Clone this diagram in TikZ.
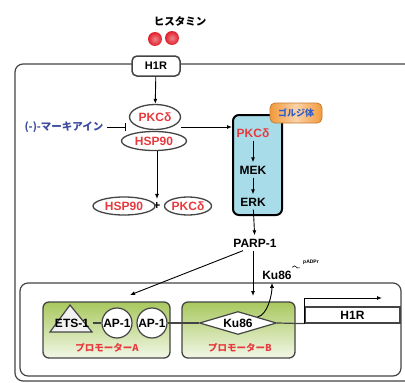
\documentclass[tikz,border=0pt]{standalone}
\usepackage{fontspec}
\setmainfont{Liberation Sans}
\newfontfamily\jpfont{Noto Sans CJK JP}
\usetikzlibrary{shapes.geometric,arrows.meta,positioning}

\definecolor{fgred}{HTML}{E63A3F}
\definecolor{histred}{HTML}{E01F2B}
\definecolor{fgblue}{HTML}{3C4C9E}
\definecolor{golgiblue}{HTML}{A8DCE8}
\definecolor{tagorange}{HTML}{F39A3C}
\definecolor{tagblue}{HTML}{2F5FC8}
\definecolor{promgreen}{HTML}{A8C85E}
\definecolor{boxline}{HTML}{444444}

\tikzset{
  lbl/.style={font=\bfseries\fontsize{12}{12}\selectfont},
  jplbl/.style={font=\jpfont\bfseries\fontsize{#1}{#1}\selectfont},
  oval/.style={ellipse, draw=boxline, line width=1.3pt, fill=white, text=fgred, inner sep=0pt, lbl},
  factor/.style={circle, draw=boxline, line width=1.2pt, fill=white, minimum size=30, inner sep=0pt, lbl},
  promoter/.style={draw=boxline, line width=1.3pt, rounded corners=6pt, top color=promgreen, bottom color=promgreen!15!white},
  ligand/.style={inner color=histred!55!white, outer color=histred},
  arr/.style={-{Latex[length=5pt,width=4pt]}, line width=0.9pt},
  dna/.style={line width=1.2pt, boxline},
}

\begin{document}
\begin{tikzpicture}[x=1pt,y=-1pt]
\useasboundingbox (0,0) rectangle (405,383);
% cell and nucleus
\begin{scope}
  \clip (0,0) rectangle (405,383);
  \draw[boxline, line width=1.2pt, rounded corners=8pt] (15,64) rectangle (415,381);
  \draw[boxline, line width=1.2pt, rounded corners=8pt] (20,283) rectangle (401,376);
\end{scope}

% receptor
\node[jplbl=10.5] (hist) at (180,21) {ヒスタミン};
\shade[ligand] (155,39) circle (7);
\shade[ligand] (172,38) circle (7);
\node[draw=boxline, fill=white, line width=1.5pt, rounded corners=5pt, minimum width=48, minimum height=20,
      font=\bfseries\fontsize{11}{11}\selectfont] (h1r) at (156,66) {H1R};

% PKC delta / HSP90 complex
\node[oval, minimum width=51, minimum height=25] (pkc1) at (155,117) {PKCδ};
\node[oval, minimum width=65, minimum height=19] (hsp1) at (154,141) {HSP90};
\node[jplbl=10.5, text=fgblue, anchor=east] (marki) at (107,127) {(-)-マーキアイン};
\coordinate (tee) at (126,127);
\coordinate (cx) at (181,127);
\draw[arr] (h1r) -- (pkc1);
\draw[line width=0.9pt, -{Bar[width=8pt]}] (marki) -- (tee);

% dissociated
\node[lbl] (plus) at (157,206) {+};
\node[oval, minimum width=62, minimum height=18] (hsp2) at (124,206) {HSP90};
\node[oval, minimum width=47, minimum height=18] (pkc3) at (188,206) {PKCδ};
\draw[arr] (hsp1.south -| plus.north) -- (plus.north);

% golgi
\node[draw, line width=2pt, fill=golgiblue, rounded corners=6pt, minimum width=49, minimum height=100] (golgi) at (257.5,165) {};
\node[draw=tagorange!80!black, line width=0.8pt, rounded corners=5pt, left color=tagorange, right color=tagorange,
      middle color=tagorange!45!white, text=tagblue, jplbl=9, minimum width=52, minimum height=20] (tag) at (296,113) {ゴルジ体};
\node[lbl, text=fgred] (pkc2) at (253,133) {PKCδ};
\node[lbl] (mek) at (253,170) {MEK};
\node[lbl] (erk) at (253,202) {ERK};
\node[lbl] (parp) at (255,243) {PARP-1};
\draw[arr] (cx) -- (golgi.west |- cx);
\draw[arr] (pkc2) -- (mek);
\draw[arr] (mek) -- (erk);
\draw[arr] (erk) -- (parp);

% nucleus
\draw[promoter] (43,302) rectangle (170,358);
\draw[promoter] (182,302) rectangle (295,358);
\node[jplbl=9.5, text=fgred] (prA) at (107,348) {プロモーターA};
\node[jplbl=9.5, text=fgred] (prB) at (240,348) {プロモーターB};

\draw[boxline, line width=1.2pt, fill=gray!10] (70,305) -- (92,332) -- (50,332) -- cycle;
\node[lbl] (ets) at (72,323) {ETS-1};
\node[factor] (ap1) at (117,323) {AP-1};
\node[factor] (ap2) at (152,323) {AP-1};
\node[diamond, draw=boxline, line width=1.2pt, fill=white, aspect=3.3, minimum width=77, minimum height=23,
      inner sep=0pt, lbl] (kubox) at (238,323) {Ku86};
\node[draw=boxline, line width=1.2pt, fill=white, minimum width=95, minimum height=16, inner sep=0pt, lbl] (gene) at (352.5,315) {H1R};
\coordinate (txend) at (382,298);

\draw[dna] (ets.east) -- (ap1.west);
\draw[dna] (ap2.east) -- (kubox.west);
\draw[dna] (kubox.east) -- (gene.south west);
\draw[arr] (gene.south west) |- (txend);

% PARP-1 targets
\node[lbl] (kulbl) at (277,275) {Ku86};
\node[font=\bfseries\fontsize{5}{5}\selectfont] (padpr) at (311,262) {pADPr};
\coordinate (tgA) at (130,295);
\coordinate (tgB) at (253,296);
\draw[arr] ([xshift=-12]parp.south) -- (tgA);
\draw[arr] (parp.south -| tgB) -- (tgB);
\draw[arr] (kubox.north east) .. controls +(10,-2) and +(0,12) .. ([xshift=-5]kulbl.south);
\draw[line width=0.6pt] ([xshift=-3]kulbl.north east) .. controls +(4,-4) and +(-4,2) .. (padpr.south west);
\end{tikzpicture}
\end{document}
